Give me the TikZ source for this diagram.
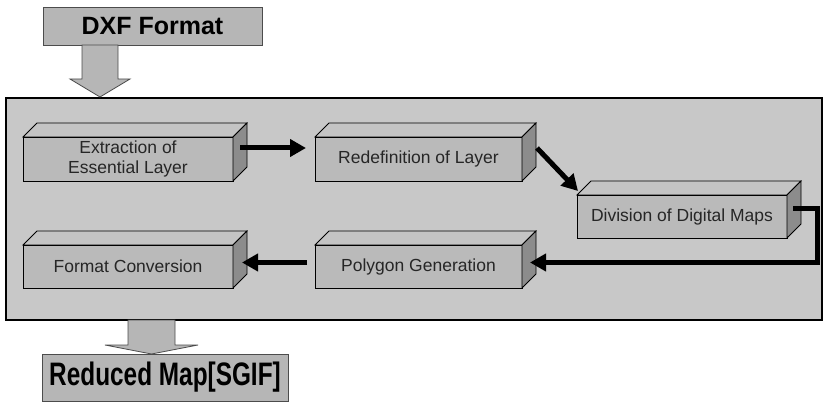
\documentclass[tikz,border=0pt]{standalone}
\usepackage{fontspec}
\usepackage{graphicx}
\setmainfont{Liberation Sans}
\usetikzlibrary{positioning,arrows.meta}
\definecolor{panelcol}{RGB}{200,200,200}
\definecolor{frontcol}{RGB}{186,186,186}
\definecolor{topcol}{RGB}{196,196,196}
\definecolor{sidecol}{RGB}{140,140,140}
\definecolor{titlecol}{RGB}{182,182,182}

\begin{document}
\begin{tikzpicture}[
  x=1pt, y=-1pt,
  every node/.style={outer sep=0pt},
  blockbox/.style={draw=black, line width=0.8pt, fill=frontcol, align=center,
    text=black!85, font=\fontsize{17.5}{20}\selectfont, inner sep=0pt},
  topface/.style={draw=black, line width=0.8pt, fill=topcol},
  sideface/.style={draw=black, line width=0.8pt, fill=sidecol},
  titlebox/.style={draw=black!70, line width=0.8pt, fill=titlecol, inner sep=0pt},
  arr/.style={-{Triangle[length=16pt,width=17pt]}, line width=5pt, black},
  bigarr/.style={draw=black!70, line width=0.8pt, fill=titlecol}
]
\useasboundingbox (0,0) rectangle (827,403);

% ---------------- input / output ----------------
\node[titlebox, minimum width=219pt, minimum height=38pt,
      font=\bfseries\fontsize{25}{28}\selectfont] (dxf) at (152.5,26) {DXF Format};

\node[draw=black, line width=1.2pt, fill=panelcol, minimum width=816pt,
      minimum height=222pt] (panel) at (414,209) {};

\node[titlebox, minimum width=246pt, minimum height=47pt,
      font=\bfseries\fontsize{32.5}{34}\selectfont] (red) at (165,377.5)
  {\scalebox{0.75}[1]{Reduced Map[SGIF]}};

% ---------------- process boxes ----------------
\node[blockbox, minimum width=210pt, minimum height=44pt] (ext) at (128,159)
  {Extraction of\\Essential Layer};
\node[blockbox, minimum width=207pt, minimum height=44pt] (redef) at (418.5,159)
  {Redefinition of Layer};
\node[blockbox, minimum width=210pt, minimum height=43pt] (div) at (682,216.5)
  {Division of Digital Maps};
\node[blockbox, minimum width=210pt, minimum height=43pt] (fmt) at (128,266.5)
  {Format Conversion};
\node[blockbox, minimum width=207pt, minimum height=43pt] (poly) at (418.5,266.5)
  {Polygon Generation};

% 3d faces
\foreach \n in {ext,redef,div,fmt,poly}{
  \draw[topface] (\n.north west) -- ++(14,-14) -- ([shift={(14,-14)}]\n.north east)
    -- (\n.north east) -- cycle;
  \draw[sideface] (\n.north east) -- ++(14,-14) -- ([shift={(14,-14)}]\n.south east)
    -- (\n.south east) -- cycle;
}

% ---------------- arrows ----------------
\draw[bigarr] ([xshift=39pt]dxf.south west) -- ++(0,34) -- ++(-12,0) -- ++(30,18)
  -- ++(30,-18) -- ++(-12,0) -- ++(0,-34) -- cycle;
\draw[bigarr] ([xshift=122pt]panel.south west) -- ++(0,25) -- ++(-23,0) -- ++(46.5,9)
  -- ++(46.5,-9) -- ++(-23,0) -- ++(0,-25) -- cycle;

\draw[arr] ([shift={(7,-11)}]ext.east) -- ([shift={(-9,-11)}]redef.west);
\draw[arr] ([shift={(15,-11)}]redef.east) -- ([shift={(1,-4)}]div.north west);
\draw[arr] ([shift={(6,-8)}]div.east) -- ++(24,0) |- ([shift={(8,-4)}]poly.east);
\draw[arr] ([shift={(-8,-4)}]poly.west) -- ([shift={(9,-4)}]fmt.east);

\end{tikzpicture}
\end{document}
